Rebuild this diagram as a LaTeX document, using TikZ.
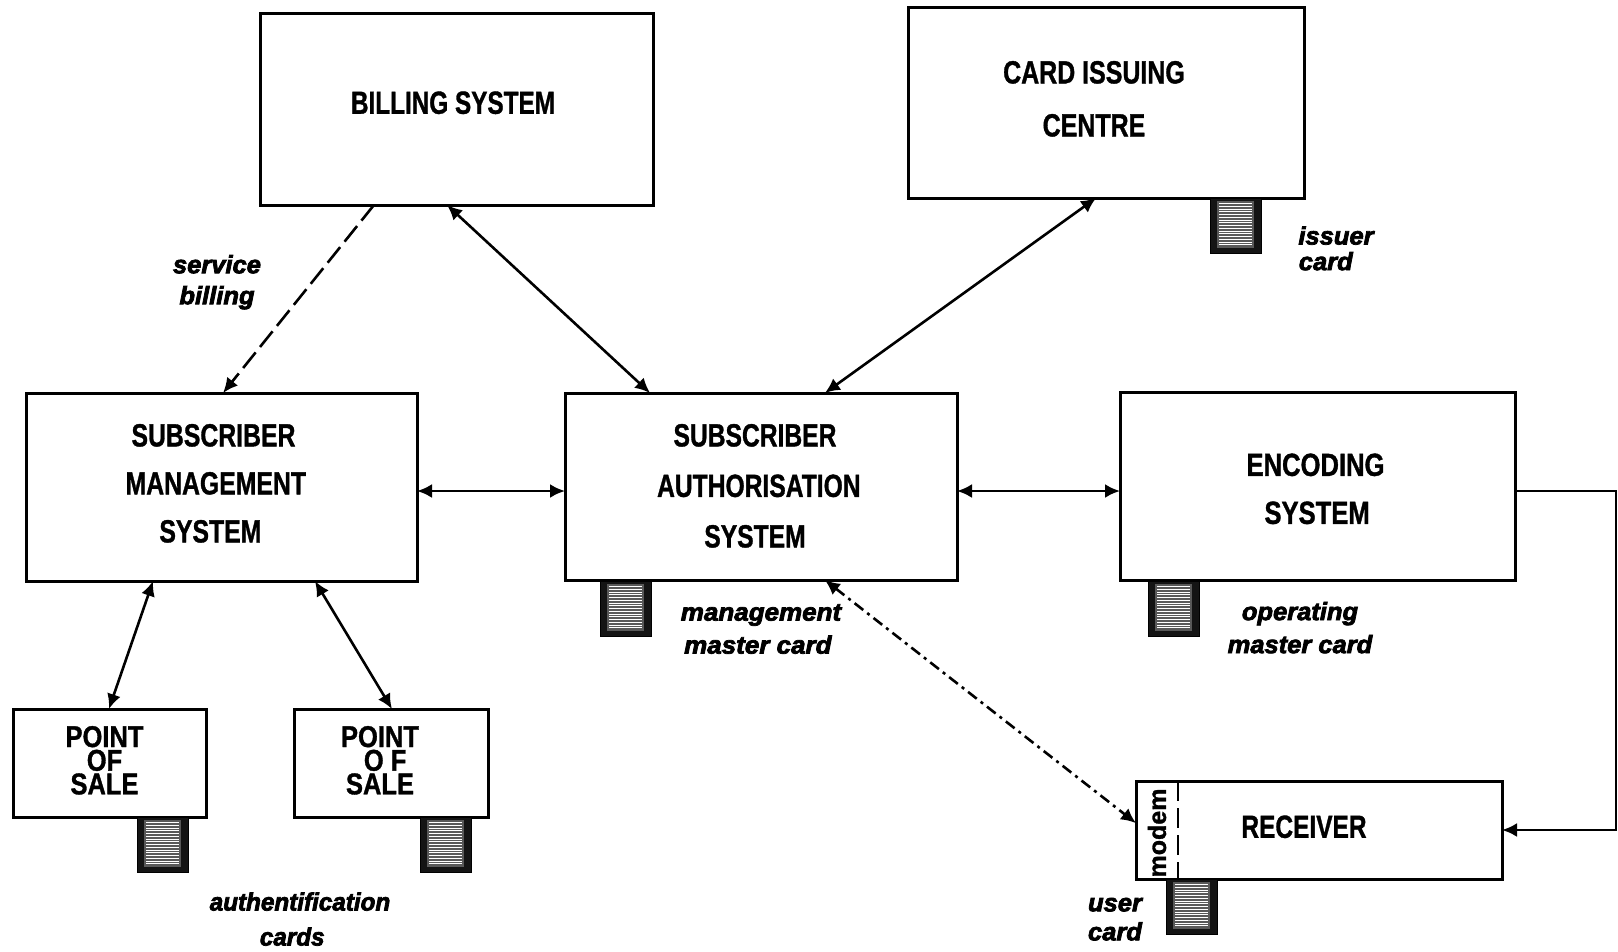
\documentclass[tikz,border=0pt]{standalone}
\usepackage{fontspec}
\setmainfont{Liberation Sans}[BoldFeatures={FakeBold=1.2},BoldItalicFeatures={FakeBold=3}]
\usetikzlibrary{arrows.meta,calc}
\newcommand\captext[6]{\raisebox{\dimexpr -#2pt-8pt\relax}[0pt][0pt]{\makebox[0pt]{\kern #1pt\kern #1pt\scalebox{#5}[1]{\fontsize{#3}{#4}\selectfont\bfseries\begin{tabular}{@{}c@{}}#6\end{tabular}}}}}
\newcommand\ittext[4]{\scalebox{#1}[1]{\fontsize{#2}{#3}\selectfont\bfseries\itshape\begin{tabular}{@{}c@{}}#4\end{tabular}}}
\tikzset{
  sysbox/.style={draw=black,line width=3pt,fill=white,inner sep=0pt,outer sep=0pt,minimum width=#1},
  sysbox/.default=100pt,
  cardbox/.style={draw=black,line width=1pt,fill=black!92,inner sep=0pt,outer sep=0pt,minimum width=51pt,minimum height=55pt,anchor=north west,
    path picture={
      \fill[black!65] ($(path picture bounding box.north west)+(7,3)$) rectangle ($(path picture bounding box.south east)+(-7,-5)$);
      \foreach \f in {.1,.15,...,.88}{\draw[white,line width=.7pt] ($(path picture bounding box.north west)!\f!(path picture bounding box.south west)+(9,0)$) -- ($(path picture bounding box.north east)!\f!(path picture bounding box.south east)+(-9,0)$);}
    }},
  lbl/.style={inner sep=0pt,outer sep=0pt,text=black},
  link/.style={line width=2.6pt,draw=black},
  biarrow/.style={link,{Latex[length=15pt,width=14pt]}-{Latex[length=15pt,width=14pt]}},
  onearrow/.style={link,-{Latex[length=15pt,width=14pt]}},
}
\begin{document}
\begin{tikzpicture}[x=1pt,y=-1pt]
\useasboundingbox (0,0) rectangle (1618,951);
% boxes
\node[sysbox=393pt,minimum height=192pt] (bill) at (456.5,109) {\captext{-3.5}{-5}{32}{40}{.76}{BILLING SYSTEM}};
\node[sysbox=396pt,minimum height=191pt] (card) at (1106,102.5) {\captext{-12}{-5}{32}{53}{.78}{CARD ISSUING\\CENTRE}};
\node[sysbox=391pt,minimum height=188pt] (sms) at (221.5,487) {\captext{-8}{-4}{32}{48}{.775}{SUBSCRIBER\\\hspace{6pt}MANAGEMENT\\\hspace{-8pt}SYSTEM}};
\node[sysbox=392pt,minimum height=187pt] (sas) at (761,486.5) {\captext{-6}{-1.5}{32}{50.5}{.77}{SUBSCRIBER\\\hspace{10pt}AUTHORISATION\\SYSTEM}};
\node[sysbox=395pt,minimum height=188pt] (enc) at (1317.5,486) {\captext{-2}{2.5}{32}{48}{.8}{ENCODING\\\hspace{4pt}SYSTEM}};
\node[sysbox=193pt,minimum height=108pt] (pos1) at (109.5,763) {\captext{-5}{-1}{30}{24}{.85}{POINT\\[-4.5pt]OF\\[-4.5pt]SALE}};
\node[sysbox=194pt,minimum height=108pt] (pos2) at (391,763) {\captext{-11}{-1}{30}{24}{.85}{POINT\\[-4.5pt]\hspace{12pt}O F\\[-4.5pt]SALE}};
\node[sysbox=366pt,minimum height=98pt] (rcv) at (1319,830) {\captext{-15}{-2}{32}{40}{.765}{RECEIVER}};
\node[lbl,rotate=90,font=\fontsize{25}{24}\selectfont\bfseries] (modem) at (1157,833) {modem};
\coordinate (divtop) at ($(rcv.north west)+(42,0)$);
\coordinate (divbot) at ($(rcv.south west)+(42,0)$);
\draw[line width=2.6pt,dash pattern=on 20pt off 7pt] (divtop) -- (divbot);
% cards
\node[cardbox] (c1) at (1210,198) {};
\node[cardbox] (c2) at (600,581) {};
\node[cardbox] (c3) at (1148,581) {};
\node[cardbox] (c4) at (137,817) {};
\node[cardbox] (c5) at (420,817) {};
\node[cardbox] (c6) at (1166,879) {};
% italics
\node[lbl] (t1) at (217,282.5) {\ittext{1.02}{25}{31}{service\\billing}};
\node[lbl] (t2) at (1336,252) {\ittext{1.02}{25}{25}{issuer\\\hspace{-20pt}card}};
\node[lbl] (t3) at (761,630.5) {\ittext{1.04}{25}{33}{management\\\hspace{-6pt}master card}};
\node[lbl] (t4) at (1300,630) {\ittext{1.02}{25}{33}{operating\hspace{28pt}\\master card}};
\node[lbl] (t5) at (300,921) {\ittext{.97}{25}{35}{authentification\\\hspace{-16pt}cards}};
\node[lbl] (t6) at (1115,920) {\ittext{1.02}{25}{29}{user\\card}};
% connectors
\draw[onearrow,dash pattern=on 20pt off 7pt] ($(bill.south west)!.29!(bill.south east)$) -- ($(sms.north west)!.504!(sms.north east)$);
\draw[biarrow] ($(bill.south west)!.476!(bill.south east)$) -- ($(sas.north west)!.217!(sas.north east)$);
\draw[biarrow] ($(card.south west)!.475!(card.south east)$) -- ($(sas.north west)!.663!(sas.north east)$);
\draw[biarrow] ($(sms.east)+(0,4)$) -- ($(sas.west)+(0,4.5)$);
\draw[biarrow] ($(sas.east)+(0,4.5)$) -- ($(enc.west)+(0,5)$);
\draw[biarrow] ($(sms.south west)!.325!(sms.south east)$) -- ($(pos1.north west)!.497!(pos1.north east)$);
\draw[biarrow] ($(sms.south west)!.739!(sms.south east)$) -- ($(pos2.north west)!.505!(pos2.north east)$);
\draw[biarrow,dash pattern=on 11pt off 5pt on 3pt off 5pt] ($(sas.south west)!.663!(sas.south east)$) -- ($(rcv.north west)!.43!(rcv.south west)$);
\coordinate (bend) at (1616,491);
\draw[onearrow] ($(enc.east)+(0,5)$) -- (bend) |- (rcv.east);
\end{tikzpicture}
\end{document}
